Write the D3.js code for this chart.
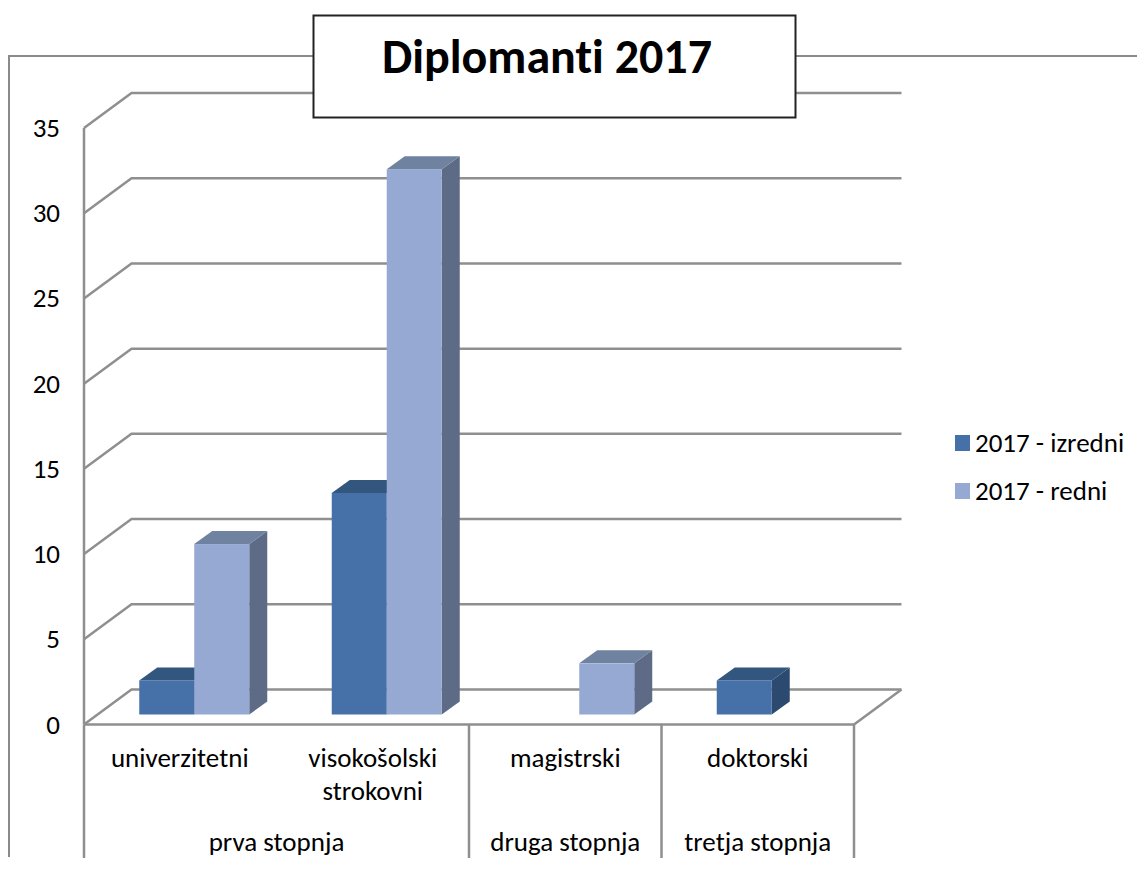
<!DOCTYPE html>
<html><head><meta charset="utf-8">
<script src="https://cdn.jsdelivr.net/npm/d3@7/dist/d3.min.js"></script>
<style>html,body{margin:0;padding:0;background:#fff}svg{display:block}text{font-family:Carlito,Lato,"Open Sans",sans-serif;fill:#000;font-variant-ligatures:none}</style>
</head><body><div id="c"></div>
<script>
const titleText = "Diplomanti 2017";
const categories = [["univerzitetni"],["visokošolski","strokovni"],["magistrski"],["doktorski"]];
const groups = [{label:"prva stopnja",span:[0,2]},{label:"druga stopnja",span:[2,3]},{label:"tretja stopnja",span:[3,4]}];
const seriesNames = ["2017 - izredni","2017 - redni"];
const izredni = [2,13,null,2];
const redni = [10,32,3,null];
const yTicks = [0,5,10,15,20,25,30,35];

const W=1137,H=870;
const svg=d3.select("#c").append("svg").attr("width",W).attr("height",H);
const x=d3.scaleLinear().domain([0,4]).range([84,854]);
const y=d3.scaleLinear().domain([0,35]).range([724.5,128]);
const DX=47.5,DY=-35, barDX=18, barDY=-13, barFloor=-10, barW=55, offs=14;
const grid="#8f8f8f", FS=27;
const faces=[{f:"#4571a8",t:"#33567f",s:"#2c4a70"},{f:"#95a9d2",t:"#6f829f",s:"#5d6b86"}];
const line=(x1,y1,x2,y2,c=grid,w=2.5)=>svg.append("line").attr("x1",x1).attr("y1",y1).attr("x2",x2).attr("y2",y2).attr("stroke",c).attr("stroke-width",w);

// outer frame
line(9,56,W,56,"#8a8a8a",2);
line(9,55,9,857,"#8a8a8a",2);

// walls
yTicks.forEach(t=>{
  svg.append("polyline").attr("fill","none").attr("stroke",grid).attr("stroke-width",2.5)
    .attr("points",[[x(0),y(t)],[x(0)+DX,y(t)+DY],[x(4)+DX,y(t)+DY]].join(" "));
  svg.append("text").attr("x",60).attr("y",y(t)+9).attr("text-anchor","end").attr("font-size",FS).text(t);
});
line(x(0),y(0),x(0),y(35));
line(x(0),y(0),x(4),y(0));
line(x(4),y(0),x(4)+DX,y(0)+DY);

// bars
function bar(i,v,k){
  if(v==null) return;
  const xl=(x(i)+x(i+1))/2+offs+(k===0?-barW:0), xr=xl+barW, yb=y(0)+barFloor, yt=y(v)+barFloor, c=faces[k];
  svg.append("polygon").attr("fill",c.s).attr("points",[[xr,yt],[xr+barDX,yt+barDY],[xr+barDX,yb+barDY],[xr,yb]].join(" "));
  svg.append("polygon").attr("fill",c.t).attr("points",[[xl,yt],[xl+barDX,yt+barDY],[xr+barDX,yt+barDY],[xr,yt]].join(" "));
  svg.append("rect").attr("x",xl).attr("y",yt).attr("width",barW).attr("height",yb-yt).attr("fill",c.f);
}
categories.forEach((_,i)=>bar(i,izredni[i],0));
categories.forEach((_,i)=>bar(i,redni[i],1));

// multi-level axis
[0,2,3,4].forEach(i=>line(x(i),y(0),x(i),858));
categories.forEach((lines,i)=>lines.forEach((s,j)=>
  svg.append("text").attr("x",(x(i)+x(i+1))/2+(i===0?-0.5:0)).attr("y",767+j*32.5).attr("text-anchor","middle").attr("font-size",FS).text(s)));
groups.forEach(g=>svg.append("text").attr("x",(x(g.span[0])+x(g.span[1]))/2).attr("y",851).attr("text-anchor","middle").attr("font-size",FS).text(g.label));

// legend
seriesNames.forEach((s,k)=>{
  const ly=d3.scaleLinear().domain([0,1]).range([443,491])(k);
  svg.append("rect").attr("x",955).attr("y",ly-8).attr("width",15).attr("height",16).attr("fill",faces[k].f);
  svg.append("text").attr("x",975).attr("y",ly+9).attr("font-size",FS).text(s);
});

// title
svg.append("rect").attr("x",313.5).attr("y",15.5).attr("width",482).attr("height",102).attr("fill","#fff").attr("stroke","#222").attr("stroke-width",2);
svg.append("text").attr("x",547).attr("y",73).attr("text-anchor","middle").attr("font-size",48).attr("font-weight",700).text(titleText);
</script></body></html>
